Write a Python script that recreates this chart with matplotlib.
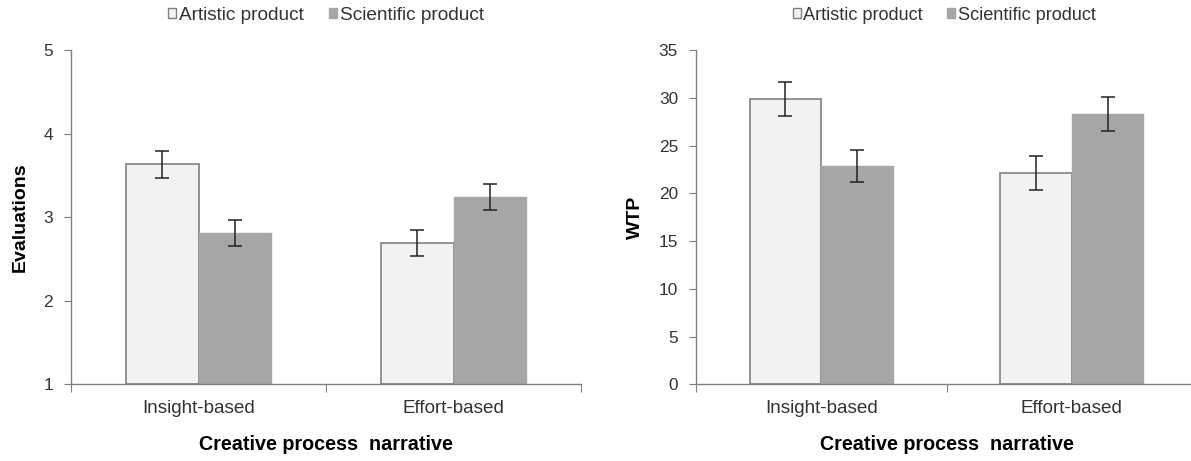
import matplotlib
matplotlib.use("Agg")
import matplotlib.pyplot as plt
import numpy as np
from matplotlib.patches import Patch

plt.rcParams['font.family'] = ['Liberation Sans', 'DejaVu Sans']

categories = ["Insight-based", "Effort-based"]
series = ["Artistic product", "Scientific product"]

eval_artistic = [3.63, 2.69]
eval_scientific = [2.81, 3.24]
eval_art_err = [0.16, 0.155]
eval_sci_err = [0.155, 0.16]

wtp_artistic = [29.9, 22.1]
wtp_scientific = [22.85, 28.3]
wtp_art_err = [1.76, 1.77]
wtp_sci_err = [1.7, 1.74]

art_color = "#f2f2f2"
sci_color = "#a6a6a6"
edge = "#808080"
txt = "#333333"

W, H = 1191, 461
fig = plt.figure(figsize=(W/100, H/100), dpi=100)
ax1 = fig.add_axes([71/W, 1-384.3/H, (581-71)/W, 334.3/H])
ax2 = fig.add_axes([696/W, 1-384.3/H, (1197-696)/W, 334.3/H])

def draw(ax, a, s, ae, se, ylim, yticks, ylabel, ylab_x, legx, legfs):
    x = np.arange(len(categories)) + 0.5
    w = 1/1.75/2
    ax.bar(x - w/2, [v - ylim[0] for v in a], w, bottom=ylim[0], color=art_color,
           edgecolor=edge, linewidth=1.2, zorder=2)
    ax.bar(x + w/2, [v - ylim[0] for v in s], w, bottom=ylim[0], color=sci_color,
           edgecolor=sci_color, linewidth=1.0, zorder=2)
    ax.errorbar(x - w/2, a, yerr=ae, fmt='none', ecolor='#222222', elinewidth=1.1,
                capsize=4.8, capthick=1.1, zorder=3)
    ax.errorbar(x + w/2, s, yerr=se, fmt='none', ecolor='#222222', elinewidth=1.1,
                capsize=4.8, capthick=1.1, zorder=3)
    ax.set_xlim(0, len(categories))
    ax.set_ylim(*ylim)
    ax.set_yticks(yticks)
    ax.set_yticklabels([str(t) for t in yticks], fontsize=12.4, color=txt)
    ax.set_xticks([0, 1, 2])
    ax.set_xticklabels([])
    ax.set_xticks(x, minor=True)
    ax.set_xticklabels(categories, minor=True, fontsize=13.6, color=txt)
    ax.tick_params(axis='x', which='minor', length=0, pad=11)
    ax.tick_params(axis='x', which='major', length=6, direction='out', color=edge)
    ax.tick_params(axis='y', length=5, direction='out', color=edge, pad=8)
    for sp in ['top', 'right']:
        ax.spines[sp].set_visible(False)
    for sp in ['left', 'bottom']:
        ax.spines[sp].set_color(edge)
        ax.spines[sp].set_linewidth(1.0)
    ax.set_ylabel(ylabel, fontsize=14, fontweight='bold', color='black')
    ax.yaxis.label.set_va('center')
    pos = ax.get_position()
    ax.yaxis.set_label_coords((ylab_x + 2 - pos.x0 * W) / (pos.width * W), 0.5)
    ax.set_xlabel("Creative process  narrative", fontsize=14.2, fontweight='bold',
                  color='black', labelpad=13)
    handles = [Patch(facecolor=art_color, edgecolor=edge, linewidth=1.0),
               Patch(facecolor=sci_color, edgecolor=sci_color)]
    leg = fig.legend(handles, series, loc='center', bbox_to_anchor=(legx, 1-15/H),
                     ncol=2, frameon=False, fontsize=legfs, handlelength=0.45,
                     handleheight=0.45, handletextpad=0.15, columnspacing=1.3)
    for t in leg.get_texts():
        t.set_color(txt)

draw(ax1, eval_artistic, eval_scientific, eval_art_err, eval_sci_err,
     (1, 5), [1, 2, 3, 4, 5], "Evaluations", 18, 326/W, 13.7)
draw(ax2, wtp_artistic, wtp_scientific, wtp_art_err, wtp_sci_err,
     (0, 35), [0, 5, 10, 15, 20, 25, 30, 35], "WTP", 633, 944/W, 13.1)

fig.savefig("out.png", dpi=100)
